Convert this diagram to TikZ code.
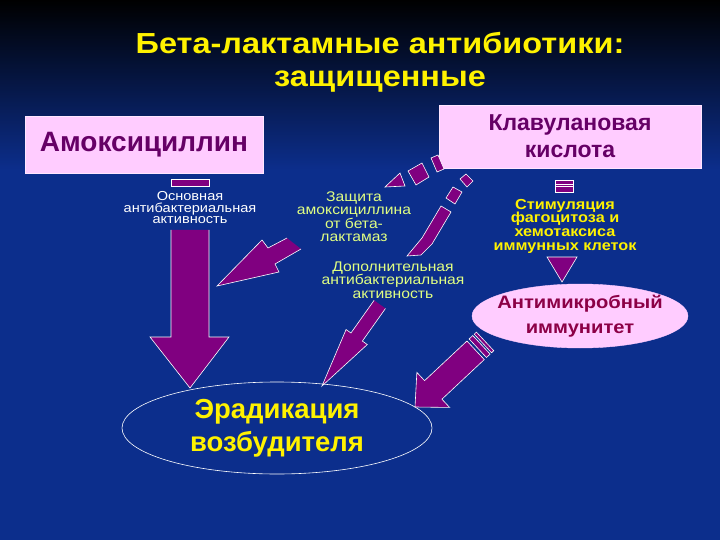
\documentclass[tikz,border=0pt]{standalone}
\usepackage{fontspec}
\setmainfont{Liberation Sans}
\newfontfamily\widesans[FakeStretch=1.12]{Liberation Sans}
\usepackage{xcolor}
\usetikzlibrary{shapes.geometric}

\definecolor{bgblue}{RGB}{12,46,140}
\definecolor{arrowpurple}{RGB}{128,0,128}
\definecolor{boxpink}{RGB}{255,204,255}
\definecolor{boxtext}{RGB}{102,0,102}
\definecolor{immtext}{RGB}{140,0,70}
\definecolor{paleyellow}{RGB}{225,255,130}

\tikzset{
  blk/.style={fill=arrowpurple, draw=white, line width=0.6pt, line join=miter},
  pinkbox/.style={fill=boxpink, draw=boxpink!50!white, line width=0.6pt, text=boxtext, align=center, inner sep=0pt},
  note/.style={align=center, inner sep=0pt},
}

\begin{document}
\begin{tikzpicture}[x=1pt,y=-1pt]
      \useasboundingbox (0,0) rectangle (720,540);
      \fill[bgblue] (0,0) rectangle (720,540);
      \shade[top color=black, bottom color=bgblue] (0,0) rectangle (720,170);%фон

      \node[note, text=yellow, font=\widesans\bfseries\fontsize{29}{33}\selectfont] (title) at (380,62) {Бета-лактамные антибиотики:\\защищенные};

      \node[pinkbox, minimum width=238pt, minimum height=57pt, font=\bfseries\fontsize{28}{30}\selectfont] (amox) at (144,144.5) {Амоксициллин};
      \node[pinkbox, minimum width=262pt, minimum height=63pt, font=\bfseries\fontsize{23}{27}\selectfont] (clav) at (570,136.5) {Клавулановая\\кислота};

      \node[note, text=white, font=\widesans\fontsize{13}{11.5}\selectfont] (mainact) at (190,208) {Основная\\антибактериальная\\активность};
      \node[note, text=paleyellow, font=\widesans\fontsize{14}{13}\selectfont] (protect) at (354,217) {Защита\\амоксициллина\\от бета-\\лактамаз};
      \node[note, text=paleyellow, font=\widesans\fontsize{14}{13.5}\selectfont] (addact) at (393,280) {Дополнительная\\антибактериальная\\активность};
      \node[note, text=yellow, font=\widesans\bfseries\fontsize{14.5}{13.7}\selectfont] (stim) at (565,226) {Стимуляция\\фагоцитоза и\\хемотаксиса\\иммунных клеток};

      \node[ellipse, fill=boxpink, draw=boxpink, minimum width=216pt, minimum height=64pt, inner sep=0pt] (immun) at (580,316) {};
      \node[note, text=immtext, font=\widesans\bfseries\fontsize{18}{25}\selectfont] (immlabel) at (immun) {Антимикробный\\иммунитет};
      \node[ellipse, draw=white, line width=0.6pt, minimum width=310pt, minimum height=92pt, inner sep=0pt, align=center, text=yellow, font=\bfseries\fontsize{27.5}{33}\selectfont] (erad) at (277,428) {Эрадикация\\возбудителя};

      % основная активность
      \draw[blk] (171,179) rectangle (209,186);
      \fill[arrowpurple] (171,230) -- (171,337) -- (150,337) -- (190,388) -- (229,337) -- (209,337) -- (209,230) -- cycle;
      \draw[white, line width=0.6pt, line join=miter] (171,230) -- (171,337) -- (150,337) -- (190,388) -- (229,337) -- (209,337) -- (209,230);

      % защита от бета-лактамаз
      \fill[arrowpurple] (217,286) -- (262,240) -- (268,248) -- (287,238) -- (301,249) -- (275,264) -- (279,272) -- cycle;
      \draw[white, line width=0.6pt, line join=miter] (287,238) -- (268,248) -- (262,240) -- (217,286) -- (279,272) -- (275,264) -- (301,249);
      \draw[blk] (385,187) -- (400,173) -- (405,186) -- cycle;
      \draw[blk] (408,171) -- (422,163) -- (429,177) -- (416,185) -- cycle;
      \draw[blk] (431,158) -- (438,155) -- (444,169) -- (437,172) -- cycle;

      % дополнительная активность
      \draw[blk] (460,179) -- (466,174) -- (473,181) -- (467,187) -- cycle;
      \draw[blk] (446,198) -- (453,187) -- (462,192) -- (455,204) -- cycle;
      \draw[blk] (441,206) -- (451,212) -- (432,244) -- (421,255) -- (407,256) -- (422,238) -- cycle;
      \begin{scope}[shift={(322,386)}, rotate=54.7]
        \fill[arrowpurple] (0,0) -- (60,13) -- (60,7) -- (100,7) -- (100,-7) -- (60,-7) -- (60,-13) -- cycle;
        \draw[white, line width=0.6pt, line join=miter] (100,7) -- (60,7) -- (60,13) -- (0,0) -- (60,-13) -- (60,-7) -- (100,-7);
      \end{scope}

      % иммунитет
      \draw[blk] (555,180) rectangle (573,192);
      \draw[white, line width=0.6pt] (555,184) -- (573,184) (555,186.5) -- (573,186.5);
      \draw[blk] (547,257) -- (577,257) -- (562,282) -- cycle;
      \begin{scope}[shift={(415,407)}, rotate=43.1]
        \draw[blk] (0,0) -- (25,24) -- (25,12.7) -- (83,12.7) -- (83,-12.7) -- (25,-12.7) -- (25,-24) -- cycle;
        \draw[blk] (86,12.7) rectangle (91,-12.7);
        \draw[blk] (93,12.7) rectangle (96,-12.7);
      \end{scope}
\end{tikzpicture}
\end{document}
